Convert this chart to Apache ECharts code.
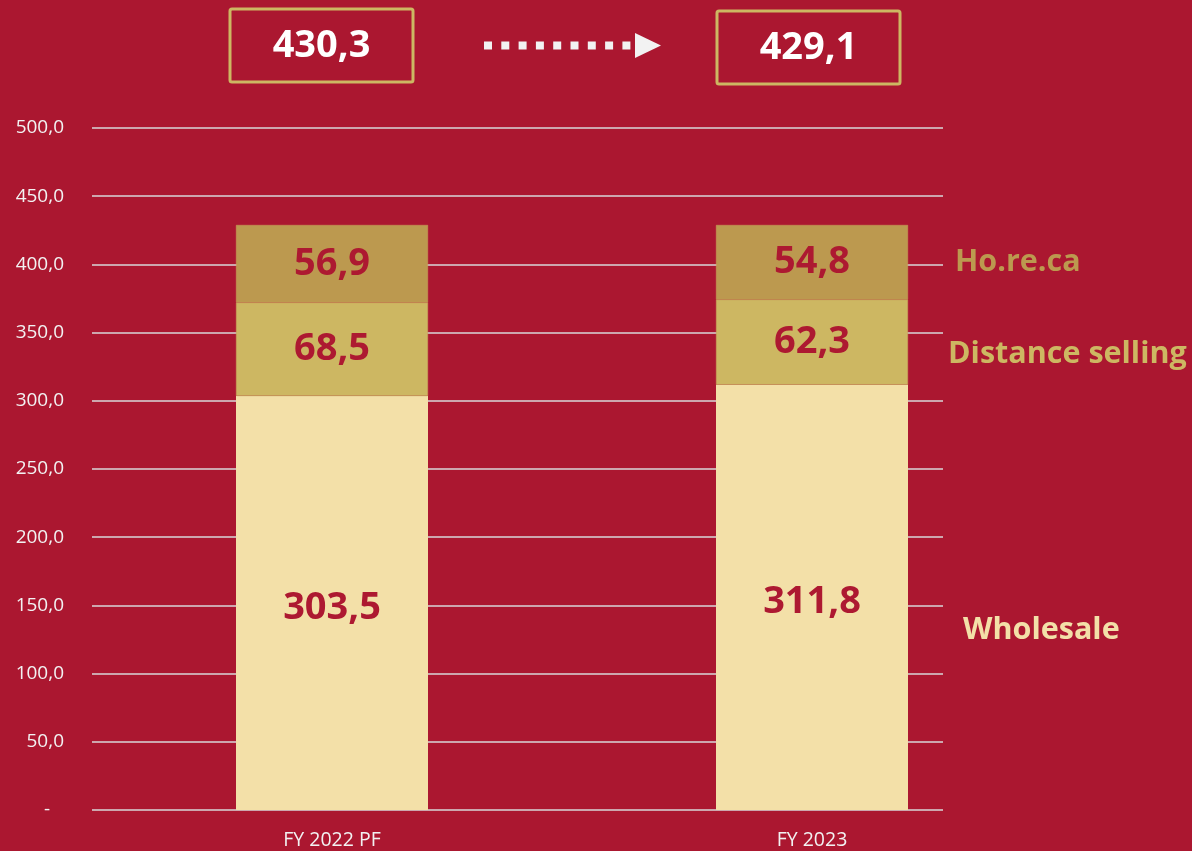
<!DOCTYPE html>
<html>
<head>
<meta charset="utf-8">
<script src="https://cdn.jsdelivr.net/npm/echarts@6/dist/echarts.min.js"></script>
<style>
  html, body { margin: 0; padding: 0; background: #AB1730; }
  #chart { width: 1192px; height: 851px; }
</style>
</head>
<body>
<div id="chart"></div>
<script>
// data
var categories = ['FY 2022 PF', 'FY 2023'];
var wholesale = [303.5, 311.8];
var distanceSelling = [68.5, 62.3];
var horeca = [56.9, 54.8];
var totals = [430.3, 429.1];
var seriesNames = ['Wholesale', 'Distance selling', 'Ho.re.ca'];

var RED = '#AB1730';
var fmt = function (v) { return v.toFixed(1).replace('.', ','); };

var myChart = echarts.init(document.getElementById('chart'));

// dotted arrow between the two total boxes
var arrow = [];
for (var i = 0; i < 9; i++) {
  arrow.push({
    type: 'rect',
    shape: { x: 484 + i * 17.3, y: 41.5, width: 8, height: 8 },
    style: { fill: '#F2F2F2' }
  });
}
arrow.push({
  type: 'polygon',
  shape: { points: [[635, 33], [661, 45.5], [635, 58]] },
  style: { fill: '#F2F2F2' }
});

var boxes = [];
var boxX = [230, 717];
var boxY = [9, 11];
totals.forEach(function (t, k) {
  boxes.push({
    type: 'rect',
    shape: { x: boxX[k], y: boxY[k], width: 183, height: 73, r: 2 },
    style: { fill: 'none', stroke: '#CDB762', lineWidth: 3 }
  });
  boxes.push({
    type: 'text',
    x: boxX[k] + 91.5,
    y: boxY[k] + 37,
    style: {
      text: fmt(t),
      fill: '#FFFFFF',
      font: 'bold 38px "Open Sans"',
      align: 'center',
      verticalAlign: 'middle'
    }
  });
});

var sideLabels = [
  { text: seriesNames[2], x: 955, y: 262, color: '#BC994F' },
  { text: seriesNames[1], x: 948, y: 354, color: '#CDB762' },
  { text: seriesNames[0], x: 963, y: 630, color: '#F3E0A8' }
].map(function (s) {
  return {
    type: 'text',
    x: s.x,
    y: s.y,
    style: {
      text: s.text,
      fill: s.color,
      font: 'bold 30.5px "Open Sans"',
      align: 'left',
      verticalAlign: 'middle'
    }
  };
});

var barLabel = {
  show: true,
  position: 'inside',
  color: '#AD1931',
  fontFamily: 'Open Sans',
  fontWeight: 'bold',
  fontSize: 38,
  formatter: function (p) { return fmt(p.value); }
};

var option = {
  backgroundColor: RED,
  animation: false,
  grid: [
    { left: 92, right: 249, top: 128, bottom: 41 },
    { left: 92, right: 140, top: 128, bottom: 41 }
  ],
  xAxis: [
    { type: 'category', gridIndex: 0, data: categories, show: false },
    {
      type: 'category',
      gridIndex: 1,
      data: categories,
      axisLine: { show: false },
      axisTick: { show: false },
      axisLabel: {
        color: '#F2F2F2',
        fontFamily: 'Open Sans',
        fontSize: 19.5,
        margin: 20
      }
    }
  ],
  yAxis: [
    {
      type: 'value',
      gridIndex: 0,
      min: 0,
      max: 500,
      interval: 50,
      axisLine: { show: false },
      axisTick: { show: false },
      splitLine: { show: true, lineStyle: { color: '#D9D9D9', width: 1.5 } },
      axisLabel: {
        color: '#F2F2F2',
        fontFamily: 'Open Sans',
        fontSize: 19,
        margin: 28,
        formatter: function (v) { return v === 0 ? '{d|-}' : fmt(v); },
        rich: { d: { color: '#F2F2F2', fontSize: 19, padding: [0, 14, 0, 0] } }
      }
    },
    {
      type: 'value',
      gridIndex: 1,
      min: 0,
      max: 500,
      interval: 50,
      show: false,
      splitLine: { show: false }
    }
  ],
  series: [
    {
      name: seriesNames[0],
      type: 'bar',
      stack: 'total',
      xAxisIndex: 1,
      yAxisIndex: 1,
      barWidth: 192,
      itemStyle: { color: '#F3E0A8' },
      label: Object.assign({}, barLabel, { offset: [0, 5] }),
      data: wholesale
    },
    {
      name: seriesNames[1],
      type: 'bar',
      stack: 'total',
      xAxisIndex: 1,
      yAxisIndex: 1,
      barWidth: 192,
      itemStyle: { color: '#CDB762', borderColor: '#C9A35A', borderWidth: 0.5 },
      label: barLabel,
      data: distanceSelling
    },
    {
      name: seriesNames[2],
      type: 'bar',
      stack: 'total',
      xAxisIndex: 1,
      yAxisIndex: 1,
      barWidth: 192,
      itemStyle: { color: '#BC994F', borderColor: '#C9A35A', borderWidth: 0.5 },
      label: barLabel,
      data: horeca
    }
  ],
  graphic: arrow.concat(boxes, sideLabels)
};

myChart.setOption(option);
window.addEventListener('resize', function () { myChart.resize(); });
</script>
</body>
</html>
